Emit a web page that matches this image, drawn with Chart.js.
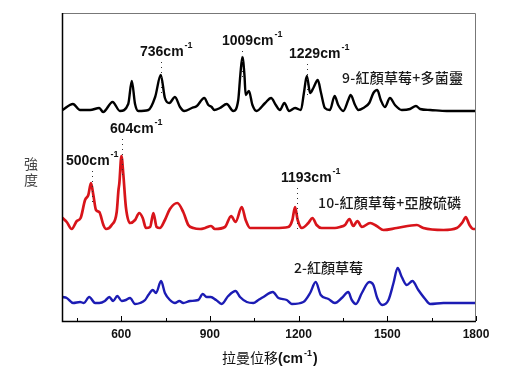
<!DOCTYPE html>
<html>
<head>
<meta charset="utf-8">
<script src="https://cdn.jsdelivr.net/npm/chart.js@4"></script>
<style>
  body { margin: 0; background: #fff; }
  #grafico { display: block; }
</style>
</head>
<body>
<canvas id="grafico" width="514" height="380"></canvas>
<script>
// espectros (cm-1 / intensidade relativa, ja deslocados)
const ondaPreto = [402, 437, 461, 495, 526, 539, 571, 596, 624, 636, 647, 658, 692, 715, 734, 748, 763, 782, 799, 813, 839, 856,
  881, 895, 906, 915, 934, 957, 979, 996, 1003, 1010, 1017, 1021, 1032, 1044, 1058, 1087, 1107, 1123, 1137, 1152, 1168, 1188,
  1208, 1218, 1228, 1239, 1250, 1265, 1276, 1289, 1306, 1322, 1334, 1351, 1368, 1376, 1391, 1402, 1419, 1439, 1453, 1466,
  1478, 1492, 1509, 1526, 1549, 1577, 1597, 1611, 1645, 1701, 1757, 1800]
const intensPreto = [211, 217, 211, 211, 213, 209, 219, 210, 217, 240, 217, 210, 211, 224, 246, 223, 218, 224, 214, 210, 213, 215,
  223, 216, 214, 211, 213, 217, 210, 221, 246, 264, 246, 226, 230, 216, 210, 218, 223, 216, 211, 218, 210, 213,
  211, 228, 245, 228, 233, 241, 228, 213, 211, 225, 216, 210, 221, 226, 216, 211, 213, 218, 228, 231,
  221, 214, 223, 216, 211, 212, 215, 212, 211, 210, 210, 210]

const ondaVermelho = [402, 416, 433, 450, 463, 478, 489, 498, 506, 515, 526, 540, 549, 568, 585, 591, 594, 601, 607, 616, 630,
  647, 661, 673, 684, 698, 709, 720, 731, 748, 765, 790, 810, 827, 844, 867, 884, 904, 917, 951, 972, 987, 1008, 1021,
  1036, 1075, 1120, 1165, 1179, 1188, 1197, 1211, 1233, 1247, 1261, 1278, 1323, 1340, 1357, 1372, 1385, 1399, 1414,
  1442, 1464, 1487, 1532, 1600, 1622, 1690, 1735, 1755, 1765, 1778, 1791, 1800]
const intensVermelho = [103, 99, 92, 100, 103, 121, 126, 138, 126, 111, 109, 96, 92, 96, 109, 131, 138, 165, 148, 114, 98,
  101, 108, 103, 93, 94, 108, 94, 93, 101, 112, 118, 109, 96, 93, 92, 93, 95, 92, 94, 105, 99, 114, 101,
  93, 93, 93, 94, 101, 114, 101, 93, 98, 103, 96, 93, 93, 94, 96, 102, 95, 100, 94,
  98, 95, 91, 93, 96, 93, 91, 93, 99, 104, 96, 92, 92]

const ondaAzul = [402, 416, 438, 461, 474, 492, 512, 526, 545, 560, 573, 587, 602, 616, 630, 647, 664, 681, 692, 707, 718,
  735, 748, 765, 782, 797, 810, 833, 861, 876, 889, 903, 921, 940, 962, 987, 1002, 1025, 1047, 1064, 1081, 1113,
  1132, 1160, 1177, 1216, 1239, 1258, 1275, 1301, 1323, 1346, 1368, 1380, 1394, 1414, 1439, 1453, 1466, 1483,
  1504, 1521, 1535, 1549, 1566, 1585, 1605, 1628, 1645, 1690, 1735, 1800]
const intensAzul = [24, 23, 18, 19, 18, 24, 18, 18, 20, 24, 20, 25, 20, 21, 23, 17, 18, 21, 26, 31, 28,
  40, 28, 21, 18, 20, 18, 20, 21, 27, 24, 24, 21, 17, 25, 30, 24, 19, 18, 21, 24, 29,
  23, 21, 17, 19, 28, 39, 26, 22, 18, 23, 29, 21, 17, 28, 39, 36, 23, 16,
  21, 38, 53, 44, 36, 40, 31, 22, 17, 18, 18, 18]

const ticksX = [450, 600, 750, 900, 1050, 1200, 1350, 1500, 1650, 1800]
const ticksComRotulo = [600, 900, 1200, 1500, 1800]

const picos = [
  { texto: '736', onda: 736, serie: 0, x: 140, y: 56 },
  { texto: '1009', onda: 1009, serie: 0, x: 222, y: 45 },
  { texto: '1229', onda: 1229, serie: 0, x: 289, y: 58 },
  { texto: '604', onda: 604, serie: 1, x: 110, y: 133 },
  { texto: '500', onda: 500, serie: 1, x: 66, y: 165 },
  { texto: '1193', onda: 1193, serie: 1, x: 281, y: 182 }
]
const nomes = [
  { texto: '9-紅顏草莓+多菌靈', x: 342, y: 83, largura: 121 },
  { texto: '10-紅顏草莓+亞胺硫磷', x: 318, y: 208, largura: 143 },
  { texto: '2-紅顏草莓', x: 294, y: 273, largura: 69 }
]

function pontos(ondas, valores) {
  return ondas.map((o, i) => ({ x: o, y: valores[i] }))
}

const desenhos = {
  id: 'desenhos',
  afterDraw(chart) {
    const ctx = chart.ctx
    const a = chart.chartArea
    const sx = chart.scales.x
    const sy = chart.scales.y
    ctx.save()

    // moldura
    ctx.strokeStyle = '#777'
    ctx.lineWidth = 1
    ctx.beginPath()
    ctx.moveTo(a.left, a.top + 0.5)
    ctx.lineTo(a.right - 0.5, a.top + 0.5)
    ctx.lineTo(a.right - 0.5, a.bottom)
    ctx.stroke()
    ctx.strokeStyle = '#000'
    ctx.lineWidth = 1.5
    ctx.beginPath()
    ctx.moveTo(a.left + 0.5, a.top)
    ctx.lineTo(a.left + 0.5, a.bottom + 0.5)
    ctx.lineTo(a.right, a.bottom + 0.5)
    ctx.stroke()

    // ticks para dentro
    ctx.lineWidth = 1
    ticksX.forEach(v => {
      const px = Math.round(sx.getPixelForValue(v)) + 0.5
      const tam = ticksComRotulo.includes(v) ? 5 : 3
      ctx.beginPath()
      ctx.moveTo(px, a.bottom)
      ctx.lineTo(px, a.bottom - tam)
      ctx.stroke()
    })

    // picos anotados
    ctx.fillStyle = '#111'
    ctx.textBaseline = 'alphabetic'
    picos.forEach(p => {
      ctx.font = 'bold 14px "Liberation Sans", Arial'
      ctx.fillText(p.texto + 'cm', p.x, p.y)
      const w = ctx.measureText(p.texto + 'cm').width
      ctx.font = 'bold 9px "Liberation Sans", Arial'
      ctx.fillText('-1', p.x + w + 1, p.y - 8)

      const ds = chart.data.datasets[p.serie].data
      const perto = ds.filter(d => Math.abs(d.x - p.onda) < 15)
      const topo = perto.reduce((m, d) => d.y > m.y ? d : m, perto[0])
      const lx = Math.round(sx.getPixelForValue(p.onda)) + 0.5
      const ly = sy.getPixelForValue(topo.y)
      ctx.strokeStyle = '#333'
      ctx.setLineDash([1, 4])
      ctx.beginPath()
      ctx.moveTo(lx, p.y + 6)
      ctx.lineTo(lx, ly + 22)
      ctx.stroke()
      ctx.setLineDash([])
    })

    // nomes das amostras
    nomes.forEach(n => {
      ctx.font = '500 14px "Noto Sans CJK TC"'
      const w = ctx.measureText(n.texto).width
      const extra = (n.largura - w) / (n.texto.length - 1)
      let x = n.x
      ctx.fillStyle = '#1a1a1a'
      for (const c of n.texto) {
        ctx.fillText(c, x, n.y)
        x += ctx.measureText(c).width + extra
      }
    })

    // titulos dos eixos
    ctx.fillStyle = '#444'
    ctx.font = '14px "Noto Sans CJK TC"'
    ctx.textAlign = 'center'
    ctx.fillText('強', 31, 169)
    ctx.fillText('度', 31, 185)

    ctx.textAlign = 'left'
    ctx.fillStyle = '#111'
    ctx.font = '14px "Noto Sans CJK TC"'
    let tx = 222
    ctx.fillText('拉曼位移', tx, 363)
    tx += ctx.measureText('拉曼位移').width
    ctx.font = 'bold 14px "Liberation Sans", Arial'
    ctx.fillText('(cm', tx, 363)
    tx += ctx.measureText('(cm').width
    ctx.font = 'bold 9px "Liberation Sans", Arial'
    ctx.fillText('-1', tx + 1, 356)
    tx += ctx.measureText('-1').width + 2
    ctx.font = 'bold 14px "Liberation Sans", Arial'
    ctx.fillText(')', tx, 363)

    ctx.restore()
  }
}

const config = {
  type: 'line',
  data: {
    datasets: [{
      label: '9-紅顏草莓+多菌靈',
      data: pontos(ondaPreto, intensPreto),
      borderColor: '#000',
      borderWidth: 2.4
    }, {
      label: '10-紅顏草莓+亞胺硫磷',
      data: pontos(ondaVermelho, intensVermelho),
      borderColor: '#d8141a',
      borderWidth: 2.7
    }, {
      label: '2-紅顏草莓',
      data: pontos(ondaAzul, intensAzul),
      borderColor: '#1c1cb4',
      borderWidth: 2.4
    }]
  },
  options: {
    responsive: false,
    animation: false,
    events: [],
    elements: {
      point: { radius: 0 },
      line: { cubicInterpolationMode: 'monotone', fill: false, borderJoinStyle: 'round', borderCapStyle: 'round' }
    },
    layout: { padding: { left: 62, top: 13, right: 38, bottom: 0 } },
    plugins: {
      legend: { display: false },
      tooltip: { enabled: false }
    },
    scales: {
      x: {
        type: 'linear',
        min: 400,
        max: 1800,
        grid: { display: false, drawTicks: false },
        border: { display: false },
        afterBuildTicks: s => { s.ticks = ticksX.map(v => ({ value: v })) },
        afterFit: s => { s.height = 59 },
        ticks: {
          autoSkip: false,
          maxRotation: 0,
          padding: 6,
          color: '#111',
          font: { family: '"Liberation Sans", Arial', size: 12, weight: 'bold' },
          callback: v => ticksComRotulo.includes(v) ? String(v) : ''
        }
      },
      y: {
        min: 0,
        max: 308,
        display: false
      }
    }
  },
  plugins: [desenhos]
}

new Chart(document.getElementById('grafico'), config)
</script>
</body>
</html>
